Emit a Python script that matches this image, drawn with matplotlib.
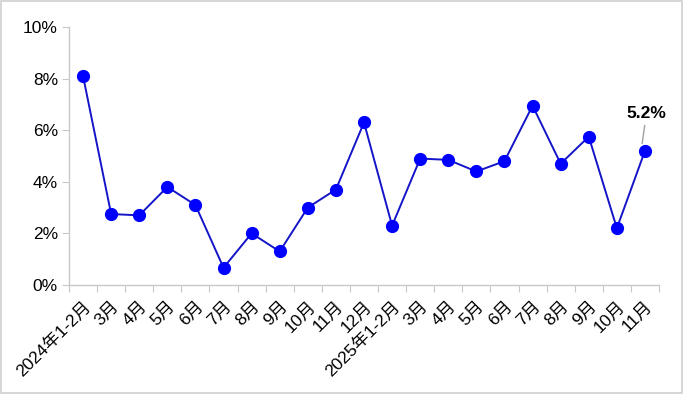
import matplotlib
matplotlib.use("Agg")
import matplotlib.pyplot as plt
from matplotlib.ticker import FuncFormatter, FixedLocator
from matplotlib.patches import Rectangle

plt.rcParams['font.family'] = ['Liberation Sans', 'Noto Sans CJK SC', 'DejaVu Sans']

categories = ["2024年1-2月", "3月", "4月", "5月", "6月", "7月", "8月", "9月", "10月", "11月", "12月",
              "2025年1-2月", "3月", "4月", "5月", "6月", "7月", "8月", "9月", "10月", "11月"]
values = [8.1, 2.75, 2.7, 3.8, 3.1, 0.67, 2.0, 1.3, 3.0, 3.7, 6.3,
          2.3, 4.9, 4.85, 4.4, 4.8, 6.95, 4.7, 5.75, 2.2, 5.2]
yticks = [0, 2, 4, 6, 8, 10]
last_label = "5.2%"

fig = plt.figure(figsize=(6.83, 3.94), dpi=100)
ax = fig.add_axes([69/683, 1-285/394, 590/683, 258/394])

n = len(categories)
x = [i + 0.5 for i in range(n)]
ax.plot(x, values, color='#1414c8', lw=1.4, marker='o', markersize=8.5,
        markerfacecolor='#0000ff', markeredgecolor='#0000ff', zorder=3, clip_on=False)

ax.set_xlim(0, n)
ax.set_ylim(0, 10)
ax.set_yticks(yticks)
ax.yaxis.set_major_formatter(FuncFormatter(lambda v, p: f"{int(v)}%"))
ax.xaxis.set_major_locator(FixedLocator(list(range(n + 1))))
ax.set_xticklabels([])
ax.xaxis.set_minor_locator(FixedLocator(x))
ax.set_xticklabels(categories, minor=True, rotation=45, ha='right', va='top',
                   rotation_mode='anchor', fontsize=12.5)
ax.tick_params(axis='x', which='minor', length=0, pad=10)
ax.tick_params(axis='x', which='major', length=5, color='#c8c8c8')
ax.tick_params(axis='y', length=5, color='#c8c8c8', labelsize=12.5, pad=3)

for s in ['top', 'right']:
    ax.spines[s].set_visible(False)
for s in ['left', 'bottom']:
    ax.spines[s].set_color('#c8c8c8')
    ax.spines[s].set_linewidth(1)

ax.annotate(last_label, xy=(x[-1] - 0.1, values[-1] + 0.28), xytext=(x[-1] + 0.05, 6.35),
            ha='center', va='bottom', fontsize=12.5, fontweight='bold',
            arrowprops=dict(arrowstyle='-', color='#a0a0a0', lw=1, shrinkA=1, shrinkB=0))

fig.patches.append(Rectangle((1/683, 1/394), 681/683, 392/394, transform=fig.transFigure,
                             fill=False, edgecolor='#d0d0d0', lw=1.2))

fig.savefig("out.png", dpi=100)
